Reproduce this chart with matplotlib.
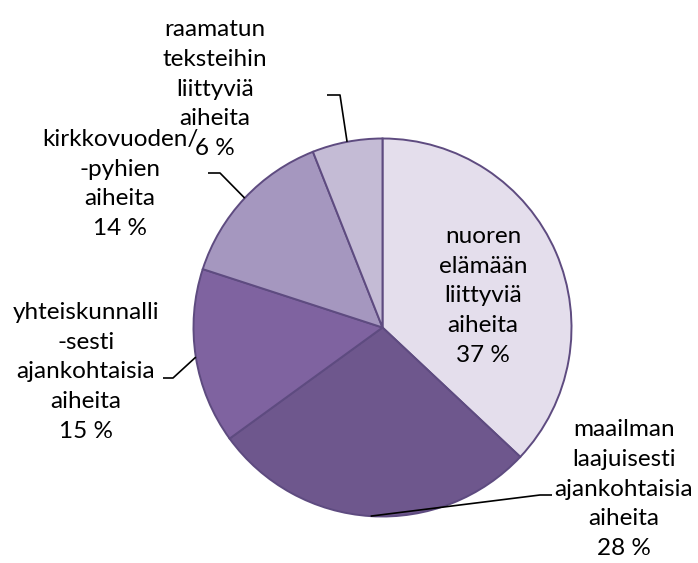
import numpy as np
import matplotlib
matplotlib.use("Agg")
import matplotlib.pyplot as plt

plt.rcParams['font.family'] = ['Lato', 'DejaVu Sans']

labels = ["nuoren\nelämään\nliittyviä\naiheita",
          "maailman\nlaajuisesti\najankohtaisia\naiheita",
          "yhteiskunnalli\n-sesti\najankohtaisia\naiheita",
          "kirkkovuoden/\n-pyhien\naiheita",
          "raamatun\nteksteihin\nliittyviä\naiheita"]
values = [37, 28, 15, 14, 6]
colors = ["#E4DEEC", "#6E578D", "#7F63A0", "#A597BF", "#C4BBD5"]

W, H = 698, 563
fig = plt.figure(figsize=(W / 100, H / 100), dpi=100)
ax = fig.add_axes([0, 0, 1, 1])

cx, cy, r = 382.5, H - 327.5, 189
ax.pie(values, colors=colors, startangle=90, counterclock=False,
       center=(cx, cy), radius=r, frame=True,
       wedgeprops=dict(edgecolor="#5E4B80", linewidth=1.4))
ax.set_xlim(0, W)
ax.set_ylim(0, H)
ax.set_aspect('equal')
ax.axis('off')

# label positions (pixel coords, centre of text block) and leader elbows
fs = 17.5
ls = 1.52
texts = [f"{l}\n{v} %" for l, v in zip(labels, values)]
pos = [(483, 296), (624, 489), (86, 372), (120, 184), (215, 89)]
for t, (x, y) in zip(texts, pos):
    ax.text(x, H - y, t, ha='center', va='center', fontsize=fs,
            linespacing=ls, color='black')

# leader lines to wedge mid-points
cum = np.cumsum([0] + values[:-1])
mids = [(c + v / 2) / sum(values) * 360 for c, v in zip(cum, values)]
elbows = {1: [(552, 495), (540, 495)],
          2: [(163, 378), (173, 378)],
          3: [(208, 173), (220, 173)],
          4: [(327, 95), (340, 95)]}
for i, pts in elbows.items():
    a = np.deg2rad(mids[i])
    ex = cx + r * np.sin(a)
    ey = cy + r * np.cos(a)
    xs = [p[0] for p in pts] + [ex]
    ys = [H - p[1] for p in pts] + [ey]
    ax.plot(xs, ys, color='black', linewidth=1.2, solid_capstyle='butt')

fig.savefig("out.png", dpi=100)
